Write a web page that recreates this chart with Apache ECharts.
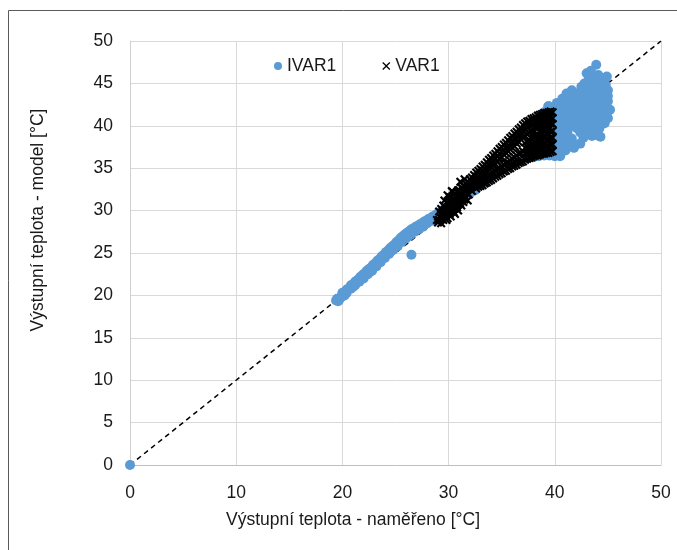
<!DOCTYPE html>
<html>
<head>
<meta charset="utf-8">
<script src="https://cdn.jsdelivr.net/npm/echarts@6/dist/echarts.min.js"></script>
<style>
html,body{margin:0;padding:0;background:#fff;}
#chart{width:677px;height:550px;}
</style>
</head>
<body>
<div id="chart"></div>
<script>
// Axis ticks
const xTicks = [0, 10, 20, 30, 40, 50];
const yTicks = [0, 5, 10, 15, 20, 25, 30, 35, 40, 45, 50];
const seriesNames = ['IVAR1', 'VAR1'];
const xTitle = 'Výstupní teplota - naměřeno [°C]';
const yTitle = 'Výstupní teplota - model [°C]';

// IVAR1 (blue dots): [measured, model]
const ivarBand = [
  [0,0],
  [19.4,19.4],[19.5,19.6],[19.6,19.3],[19.8,19.7],[19.9,19.9],[20.2,20.0],[20.1,20.2],[20.3,20.4],[20.5,20.7],[20.7,20.9],
  [20.9,21.2],[21.0,21.0],[21.1,21.4],[21.3,21.7],[21.5,21.9],[21.7,22.2],[21.9,22.4],[22.0,22.2],[22.1,22.6],[22.3,22.9],
  [22.5,23.1],[22.6,22.8],[22.7,23.3],[22.9,23.6],[23.0,23.4],[23.1,23.8],[23.3,24.1],[23.5,24.3],[23.7,24.6],[23.9,24.8],
  [24.0,24.6],[24.1,25.1],[24.3,25.3],[24.5,25.6],[24.6,25.2],[24.7,25.8],[24.9,26.0],[25.0,25.8],[25.1,26.3],[25.3,26.5],
  [25.5,26.8],[25.7,27.0],[25.9,27.2],[26.0,27.0],[26.1,27.4],[26.3,27.6],[26.5,27.8],[26.7,27.9],[26.9,28.1],[27.0,27.8],
  [27.1,28.2],[27.3,28.4],[27.5,28.5],[27.7,28.7],[27.9,28.8],[28.1,29.0],[28.3,29.1],[28.5,29.3],[28.7,29.4],[28.9,29.6],
  [29.1,29.7],[29.3,29.9],[29.5,30.1],[29.7,30.3],[30.0,30.6],[26.5,24.8],
  [19.7,19.5],[20.0,19.9],[20.4,20.3],[20.8,20.8],[21.2,21.2],[21.6,21.6],[22.0,22.0],[22.4,22.5],[22.8,22.9],[23.2,23.4],
  [23.6,23.9],[24.0,24.4],[24.4,24.9],[24.8,25.4],[25.2,25.8],[25.6,26.3],[26.0,26.7],[26.4,27.1],[26.8,27.5],[27.2,27.8],
  [27.6,28.1],[28.0,28.5],[28.4,28.8],[28.8,29.2],[29.2,29.5],[29.6,29.9],
  [20.0,20.3],[20.4,20.7],[20.8,21.2],[21.2,21.6],[21.6,22.0],[22.0,22.5],[22.4,22.9],[22.8,23.4],[23.2,23.8],[23.6,24.3],
  [24.0,24.8],[24.4,25.3],[24.8,25.8],[25.2,26.2],[25.6,26.6],[26.0,27.1],[26.4,27.5],[26.8,27.8],[27.2,28.1],[27.6,28.4],
  [28.0,28.7],[28.4,29.0],[28.8,29.3]
];
const ivarMid = [
  [30.5,31.0],[31.0,31.3],[31.5,31.6],[32.0,32.0],[32.5,32.4],[33.0,33.0],[33.5,33.3],[34.0,33.9],[34.5,34.5],[35.0,34.8],
  [35.5,35.2],[36.0,35.5],[36.5,35.8],[37.0,36.0],[37.5,36.2],[38.0,36.3],[38.5,36.4],[39.0,36.5],[39.5,36.5],[40.0,36.4],
  [40.5,36.5],[39.0,41.6],[39.4,42.3],[39.7,38.0],[40.0,37.6]
];
const ivarCluster = [
  [43.9,47.2],[43.0,46.2],[43.4,46.5],[44.1,46.0],[44.9,45.8],[44.6,45.6],[44.4,45.0],[43.7,45.3],[43.2,45.6],[42.8,45.0],
  [43.5,44.8],[44.0,44.5],[44.8,44.8],[45.0,44.2],[44.5,44.0],[43.9,43.8],[43.3,43.8],[42.7,44.2],[42.1,43.8],[41.6,44.2],
  [41.1,43.8],[41.5,43.2],[40.7,43.2],[40.2,42.7],[39.4,42.3],[39.8,42.0],[40.5,41.8],[41.0,42.6],[42.0,42.9],[42.6,43.2],
  [43.0,42.6],[43.6,42.8],[44.2,43.2],[44.6,43.4],[45.0,42.9],[44.8,42.4],[45.2,41.9],[44.5,41.5],[43.8,41.8],[43.2,41.5],
  [42.5,41.9],[41.9,41.5],[41.4,42.3],[40.9,41.4],[40.5,41.1],[41.3,40.8],[42.0,40.5],[42.7,40.7],[43.3,40.9],[43.9,40.7],
  [44.4,40.9],[45.0,40.9],[44.7,40.3],[43.9,40.2],[42.1,39.7],[42.7,39.5],[43.3,39.5],[43.8,39.2],[44.3,38.7],[44.0,38.9],
  [40.8,39.9],[41.2,39.3],[41.0,38.8],[40.5,38.7],[40.2,38.3],[40.6,37.3],[41.4,37.7],[42.4,37.9],[42.0,37.8],[41.8,37.4],
  [40.5,36.4],[39.9,36.6],[40.2,36.9],[39.6,36.8],[41.0,37.1],[39.9,39.0],[40.0,40.0],[39.7,40.6],[40.3,40.5],[42.3,42.4],
  [43.5,43.3],[44.2,42.0],[41.8,40.1],[43.0,40.1],
  [41.5,41.0],[42.0,41.2],[42.5,40.8],[43.0,41.0],[43.5,41.3],[44.0,41.3],[44.6,41.0],[41.2,41.8],[41.8,42.1],[42.3,41.6],
  [42.8,42.2],[43.3,42.1],[43.8,42.3],[44.3,42.5],[44.7,43.0],[41.3,42.8],[41.8,43.3],[42.3,43.5],[42.9,43.7],[43.4,44.2],
  [43.9,44.2],[44.4,44.5],[42.5,44.6],[43.1,44.9],[43.6,45.8],[44.2,45.4],[40.1,41.5],[40.6,42.3],[40.0,41.0],[40.4,40.0],
  [40.9,40.4],[41.4,39.9],[42.4,39.2],[43.0,39.0],[43.5,38.8],[42.7,38.6],[41.6,38.5],[40.3,37.6],[40.9,37.9],[41.3,38.2],
  [39.8,37.4],[40.0,37.9],[40.4,39.2],[42.2,40.0],[44.9,41.4],[45.0,43.5],[43.3,40.3],[44.2,39.7],[43.7,39.7]
];

// VAR1 (black crosses): [measured, model]
const varBlob = [
  [29.0,28.6],[29.3,28.5],[29.5,28.9],[29.2,29.2],[29.6,29.4],[29.9,29.1],[29.4,29.8],[29.8,29.9],[30.1,29.6],[30.3,30.0],
  [29.7,30.4],[30.0,30.5],[30.4,30.7],[30.6,30.3],[30.2,31.0],[30.5,31.3],[30.8,30.9],[31.0,31.2],[30.1,31.6],[30.7,31.8],
  [31.2,31.6],[31.5,31.3],[31.8,31.2],[31.4,32.0],[31.9,31.9],[30.4,32.2],[30.9,32.4],[29.9,31.0],[29.5,30.6],[30.9,30.0],
  [31.2,30.6],[29.1,29.9],[30.6,29.6],[31.6,32.4],
  [29.1,28.9],[29.4,29.4],[29.7,29.7],[30.0,30.1],[30.3,30.4],[30.6,30.8],[30.9,31.1],[31.2,31.4],[31.5,31.7],[31.8,32.0],
  [29.8,28.9],[30.2,29.3],[30.5,29.8],[30.8,30.4],[31.1,30.9],[31.4,31.0],[29.6,31.2],[29.9,31.8],[30.3,32.3],[30.6,32.0],
  [31.0,32.1],[31.3,32.6],[29.3,30.2],[28.9,28.9],[31.1,33.4],[31.5,33.7]
];
const varUpper = [
  [31.0,32.4],[31.0,32.0],[31.4,32.9],[31.4,32.4],[31.8,33.4],[31.8,32.9],[31.8,32.5],
  [32.2,33.9],[32.2,33.4],[32.2,32.9],[32.6,34.5],[32.6,34.0],[32.6,33.5],[33.0,34.9],[33.0,34.4],[33.0,33.9],
  [33.4,35.4],[33.4,34.9],[33.4,34.4],[33.8,36.0],[33.8,35.4],[33.8,34.9],[34.2,36.5],[34.2,35.9],[34.2,35.3],
  [34.6,37.0],[34.6,36.4],[34.6,35.8],[35.0,37.5],[35.0,36.9],[35.0,36.3],[35.4,38.0],[35.4,37.4],[35.4,36.8],
  [35.8,38.6],[35.8,37.9],[35.8,37.2],[36.2,39.1],[36.2,38.4],[36.2,37.6],[36.6,39.6],[36.6,38.9],[36.6,38.1],
  [37.0,40.1],[37.0,39.4],[37.0,38.6],[37.4,40.5],[37.4,39.8],[37.4,39.0],[37.8,40.8],[37.8,40.1],[37.8,39.4],
  [38.2,41.0],[38.2,40.4],[38.2,39.7],[38.6,41.3],[38.6,40.6],[38.6,39.9],[39.0,41.5],[39.0,40.8],[39.0,40.1],
  [39.4,41.6],[39.4,40.9],[39.4,40.2],[39.8,41.6],[39.8,40.9],[39.8,40.2],
  [31.2,32.7],[31.2,32.2],[31.6,33.2],[31.6,32.7],[32.0,33.7],[32.0,33.2],[32.0,32.7],[32.4,34.2],[32.4,33.7],[32.4,33.2],
  [32.8,34.7],[32.8,34.2],[32.8,33.7],[33.2,35.2],[33.2,34.7],[33.2,34.2],[33.6,35.7],[33.6,35.2],[33.6,34.7],
  [34.0,36.2],[34.0,35.6],[34.0,35.1],[34.4,36.7],[34.4,36.1],[34.4,35.5],[34.8,37.3],[34.8,36.7],[34.8,36.1],
  [35.2,37.8],[35.2,37.1],[35.2,36.6],[35.6,38.3],[35.6,37.6],[35.6,37.0],[36.0,38.8],[36.0,38.1],[36.0,37.4],
  [36.4,39.3],[36.4,38.6],[36.4,37.9],[36.8,39.8],[36.8,39.1],[36.8,38.4],[37.2,40.3],[37.2,39.6],[37.2,38.8],
  [37.6,40.6],[37.6,40.0],[37.6,39.2],[38.0,40.9],[38.0,40.2],[38.0,39.5],[38.4,41.2],[38.4,40.5],[38.4,39.8],
  [38.8,41.4],[38.8,40.7],[38.8,40.0],[39.2,41.5],[39.2,40.8],[39.2,40.1],[39.6,41.7],[39.6,41.0],[39.6,40.3]
];
const varLower = [
  [32.6,32.6],[32.6,33.1],[33.0,32.9],[33.0,33.5],[33.4,33.2],[33.4,33.8],[33.8,33.5],[33.8,34.1],[34.2,33.8],[34.2,34.5],
  [34.6,34.1],[34.6,34.9],[35.0,34.4],[35.0,35.2],[35.4,34.7],[35.4,35.6],[35.8,35.0],[35.8,35.9],[36.2,35.3],[36.2,36.3],
  [36.6,35.6],[36.6,36.7],[37.0,35.8],[37.0,37.0],
  [37.4,36.1],[37.4,36.8],[37.4,37.5],[37.4,38.2],[37.8,36.3],[37.8,37.0],[37.8,37.7],[37.8,38.5],
  [38.2,36.5],[38.2,37.2],[38.2,37.9],[38.2,38.7],[38.6,36.6],[38.6,37.3],[38.6,38.0],[38.6,38.8],[38.6,39.3],
  [39.0,36.7],[39.0,37.4],[39.0,38.1],[39.0,38.9],[39.0,39.5],[39.4,36.8],[39.4,37.6],[39.4,38.4],[39.4,39.1],[39.4,39.6],
  [39.8,37.0],[39.8,37.8],[39.8,38.6],[39.8,39.4],
  [32.8,32.8],[32.8,33.3],[33.2,33.0],[33.2,33.6],[33.6,33.3],[33.6,33.9],[34.0,33.6],[34.0,34.3],[34.4,34.0],[34.4,34.7],
  [34.8,34.3],[34.8,35.0],[35.2,34.6],[35.2,35.4],[35.6,34.9],[35.6,35.7],[36.0,35.2],[36.0,36.1],[36.4,35.4],[36.4,36.5],
  [36.8,35.7],[36.8,36.8],[37.2,36.0],[37.2,36.7],[37.2,37.4],
  [37.6,36.2],[37.6,36.9],[37.6,37.6],[37.6,38.3],[38.0,36.4],[38.0,37.1],[38.0,37.8],[38.0,38.6],
  [38.4,36.5],[38.4,37.2],[38.4,38.0],[38.4,38.8],[38.8,36.7],[38.8,37.4],[38.8,38.2],[38.8,39.0],
  [39.2,36.8],[39.2,37.5],[39.2,38.3],[39.2,39.1],[39.2,39.6],[39.6,36.9],[39.6,37.7],[39.6,38.5],[39.6,39.3],
  [32.2,32.3],[32.0,32.6],[32.4,32.9]
];

// Reference line y = x
const diagonal = [[0,0],[50,50]];

const ivarData = ivarBand.concat(ivarMid, ivarCluster);
const varData = varBlob.concat(varUpper, varLower);

const crossPath = 'path://M0,1.7L1.7,0L5,3.3L8.3,0L10,1.7L6.7,5L10,8.3L8.3,10L5,6.7L1.7,10L0,8.3L3.3,5Z';
const crossLegend = 'path://M0,1.1L1.1,0L5,3.9L8.9,0L10,1.1L6.1,5L10,8.9L8.9,10L5,6.1L1.1,10L0,8.9L3.9,5Z';
const FONT = '"Liberation Sans", Arial, sans-serif';
const TXT = '#1a1a1a';

const chart = echarts.init(document.getElementById('chart'), null, {renderer: 'canvas'});
chart.setOption({
  backgroundColor: '#fff',
  animation: false,
  textStyle: {fontFamily: FONT},
  grid: {left: 130, top: 41, width: 531, height: 424},
  legend: {
    data: [
      {name: seriesNames[0], icon: 'circle'},
      {name: seriesNames[1], icon: crossLegend}
    ],
    left: 269, top: 52,
    itemWidth: 8, itemHeight: 8, itemGap: 46,
    textStyle: {fontSize: 17.5, color: TXT, fontFamily: FONT}
  },
  xAxis: {
    type: 'value', min: 0, max: 50, interval: 10,
    axisLine: {show: true, lineStyle: {color: '#bfbfbf', width: 1}},
    axisTick: {show: false},
    splitLine: {show: true, lineStyle: {color: '#d9d9d9', width: 1}},
    axisLabel: {fontSize: 17.5, color: TXT, margin: 19, fontFamily: FONT,
      formatter: v => xTicks.includes(v) ? String(v) : ''}
  },
  yAxis: {
    type: 'value', min: 0, max: 50, interval: 5,
    axisLine: {show: true, lineStyle: {color: '#d0d0d0', width: 1}},
    axisTick: {show: false},
    splitLine: {show: true, lineStyle: {color: '#d9d9d9', width: 1}},
    axisLabel: {fontSize: 17.5, color: TXT, margin: 17, fontFamily: FONT,
      formatter: v => yTicks.includes(v) ? String(v) : ''}
  },
  graphic: [
    {type: 'rect', silent: true, shape: {x: 8.5, y: 10.5, width: 720, height: 620},
     style: {fill: null, stroke: '#5a5a5a', lineWidth: 1}},
    {type: 'text', silent: true, x: 353, y: 520,
     style: {text: xTitle, x: 0, y: 0, fontSize: 17.5, fill: TXT, fontFamily: FONT,
       textAlign: 'center', textVerticalAlign: 'middle'}},
    {type: 'text', silent: true, x: 38, y: 220, rotation: Math.PI / 2,
     style: {text: yTitle, x: 0, y: 0, fontSize: 17.5, fill: TXT, fontFamily: FONT,
       textAlign: 'center', textVerticalAlign: 'middle'}}
  ],
  series: [
    {
      name: 'diag', type: 'line', data: diagonal, showSymbol: false, symbol: 'none',
      lineStyle: {color: '#000', width: 1.5, type: [5, 4]}, z: 1, silent: true
    },
    {
      name: seriesNames[0], type: 'scatter', data: ivarData,
      symbol: 'circle', symbolSize: 10,
      itemStyle: {color: '#5b9bd5', opacity: 1}, z: 2
    },
    {
      name: seriesNames[1], type: 'scatter', data: varData,
      symbol: crossPath, symbolSize: 9,
      itemStyle: {color: '#000', opacity: 1}, z: 3
    }
  ]
});
</script>
</body>
</html>
